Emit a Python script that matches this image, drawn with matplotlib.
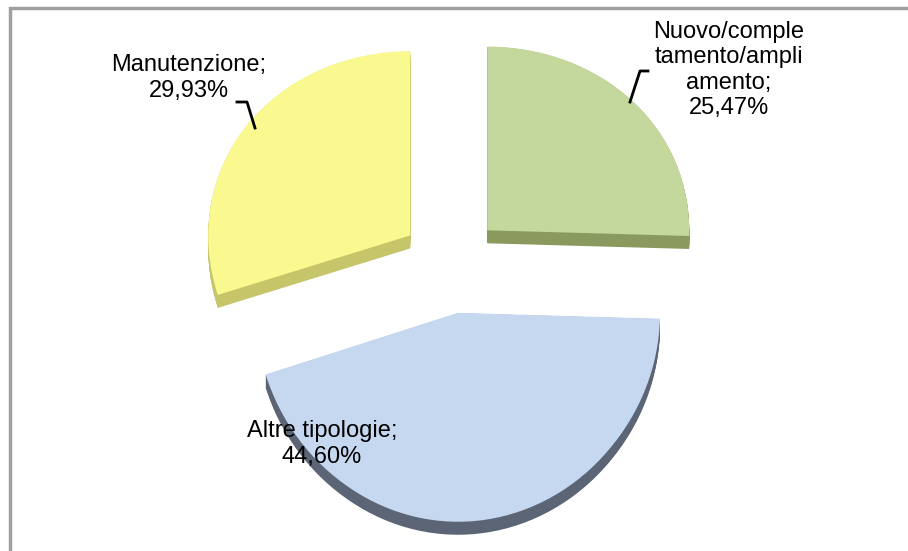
import numpy as np
import matplotlib.pyplot as plt
from matplotlib.lines import Line2D
from matplotlib.patches import Rectangle
from matplotlib.transforms import Transform, Affine2D

# slices, clockwise from 12 o'clock
labels = ["Nuovo/comple\ntamento/ampli\namento", "Altre tipologie", "Manutenzione"]
shares = [25.47, 44.60, 29.93]
top_colors = ["#c4d79c", "#c6d8f0", "#f9f98f"]
side_colors = ["#8a9a5e", "#5b6576", "#c6c56a"]

W, H = 908, 551
cx, cy = 451, 264      # pie centre in pixels
SX, SY, K = 202, 195, 0.045   # horizontal / vertical radius, perspective
depth_px = 13
explode = [0.25] * 3


class Tilt(Transform):
    """unit pie -> pixels, with a little perspective (far side smaller)"""
    input_dims = output_dims = 2

    def transform_non_affine(self, xy):
        xy = np.asarray(xy, float)
        y = xy[:, 1]
        return np.column_stack([xy[:, 0] * SX, SY * y / (1 + K * y)])


plt.rcParams['font.family'] = ['Liberation Sans', 'DejaVu Sans']

fig = plt.figure(figsize=(W / 100, H / 100), dpi=100)
ax = fig.add_axes([0, 0, 1, 1])

# side (thickness) of the 3D pie: stacked copies shifted down
for off in np.linspace(depth_px, 0.5, 14):
    wedges, _ = ax.pie(shares, radius=1, explode=explode, startangle=90,
                       counterclock=False, colors=side_colors,
                       wedgeprops=dict(linewidth=0))
    for w in wedges:
        w.set_transform(Tilt() + Affine2D().translate(0, -off) + ax.transData)
# top faces
wedges, _ = ax.pie(shares, radius=1, explode=explode, startangle=90,
                   counterclock=False, colors=top_colors,
                   wedgeprops=dict(linewidth=0))
for w in wedges:
    w.set_transform(Tilt() + ax.transData)

ax.set_xlim(-cx, W - cx)
ax.set_ylim(cy - H, cy)
ax.set_aspect('equal')
ax.axis('off')


def px(x, y):
    return x / W, 1 - y / H


def pct(v):
    return f"{v:.2f}".replace(".", ",") + "%"


fs = 17
# data labels
fig.text(*px(729, 70), f"{labels[0]};\n{pct(shares[0])}", ha='center', va='center',
         fontsize=fs, linespacing=1.2)
fig.text(*px(322, 444), f"{labels[1]};\n{pct(shares[1])}", ha='center', va='center',
         fontsize=fs, linespacing=1.2)
fig.text(*px(189, 78), f"{labels[2]};\n{pct(shares[2])}", ha='center', va='center',
         fontsize=fs, linespacing=1.2)

# leader lines
for pts in ([(648, 71), (640, 71), (630, 102)],
            [(237, 102), (247, 102), (255, 128)]):
    xs, ys = zip(*[px(x, y) for x, y in pts])
    fig.add_artist(Line2D(xs, ys, color='black', lw=2, transform=fig.transFigure))

# chart border (right and bottom edges are cropped off)
fig.add_artist(Rectangle(px(9.5, 600), 2, (600 - 8.5) / H, fill=False,
                         edgecolor='#a0a0a0', lw=2.5, transform=fig.transFigure))

fig.savefig("out.png", dpi=100)
